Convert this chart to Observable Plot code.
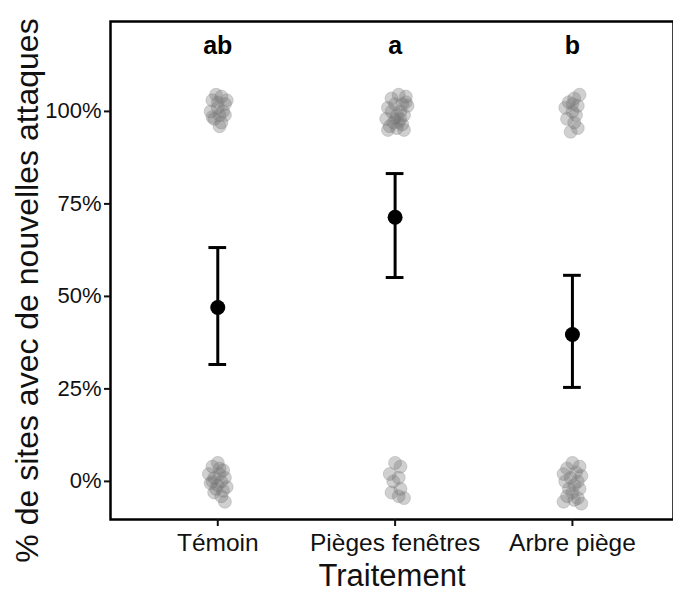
<!DOCTYPE html>
<html>
<head>
<meta charset="utf-8">
<script src="https://cdn.jsdelivr.net/npm/d3@7"></script>
<script src="https://cdn.jsdelivr.net/npm/@observablehq/plot@0.6"></script>
<style>
  body { margin: 0; background: #fff; }
</style>
</head>
<body>
<div id="chart"></div>
<script>
// ---- data ----
const treatments = ["Témoin", "Pièges fenêtres", "Arbre piège"];
const means = [0.470, 0.714, 0.397];
const lower = [0.316, 0.551, 0.254];
const upper = [0.632, 0.832, 0.557];
const letters = ["ab", "a", "b"];
const yTicks = [0, 0.25, 0.5, 0.75, 1];

// observed sites (jittered as in the figure): [x offset, y offset]
const temoin1 = [[0.02,0.04],[-0.03,0.03],[0.04,0.02],[0.00,0.01],[-0.04,0.00],[0.03,0.00],[0.01,-0.01],[-0.02,-0.02],[0.05,0.03],[-0.01,0.045],[0.02,-0.03],[-0.03,-0.015],[0.01,-0.04],[0.00,0.025],[0.04,-0.01]];
const temoin0 = [[0.00,0.05],[-0.03,0.04],[0.03,0.03],[-0.05,0.02],[0.01,0.02],[0.04,0.01],[-0.02,0.01],[0.02,0.00],[-0.04,-0.005],[0.00,-0.01],[0.05,-0.015],[-0.01,-0.02],[0.03,-0.025],[-0.03,0.00],[0.01,0.035],[0.02,-0.04],[0.04,-0.055],[-0.02,-0.03]];
const pieges1 = [[0.02,0.045],[0.06,0.04],[-0.02,0.035],[0.04,0.02],[0.07,0.015],[0.00,0.02],[-0.04,0.01],[0.03,0.00],[-0.02,0.00],[0.05,-0.01],[0.01,-0.01],[-0.05,-0.02],[0.03,-0.02],[-0.01,-0.03],[0.04,-0.035],[-0.03,-0.04],[0.01,-0.045],[0.05,-0.05],[-0.04,-0.05],[0.02,-0.03],[0.00,-0.02],[0.06,0.025]];
const pieges0 = [[0.00,0.05],[0.03,0.04],[-0.03,0.02],[0.02,0.01],[-0.01,0.00],[0.03,-0.02],[-0.02,-0.03],[0.02,-0.04],[0.05,-0.045]];
const arbre1 = [[0.04,0.045],[0.01,0.035],[-0.02,0.025],[0.03,0.015],[-0.04,0.01],[0.00,0.00],[0.02,-0.01],[-0.03,-0.02],[0.01,-0.03],[0.03,-0.045],[-0.01,-0.055],[0.00,0.02]];
const arbre0 = [[0.00,0.05],[0.04,0.04],[-0.03,0.035],[0.02,0.025],[-0.05,0.02],[0.05,0.015],[-0.01,0.01],[0.03,0.00],[-0.04,0.00],[0.01,-0.01],[-0.02,-0.02],[0.04,-0.02],[0.00,-0.03],[-0.03,-0.04],[0.03,-0.045],[0.05,-0.06],[-0.05,-0.055],[0.01,-0.05]];

// ---- build tables ----
const clusters = [
  {g: 1, v: 1, pts: temoin1}, {g: 1, v: 0, pts: temoin0},
  {g: 2, v: 1, pts: pieges1}, {g: 2, v: 0, pts: pieges0},
  {g: 3, v: 1, pts: arbre1},  {g: 3, v: 0, pts: arbre0}
];
const sites = clusters.flatMap(c => c.pts.map(([dx, dy]) => ({x: c.g + dx, y: c.v + dy})));
const summary = treatments.map((t, i) => ({
  g: i + 1, mean: means[i], lo: lower[i], hi: upper[i], letter: letters[i]
}));

const font = "'Liberation Sans', Arial, Helvetica, sans-serif";

const chart = Plot.plot({
  width: 673,
  height: 599,
  marginLeft: 110,
  marginRight: 0,
  marginTop: 21,
  marginBottom: 80,
  style: {fontFamily: font, color: "#111", background: "#fff"},
  x: {domain: [0.395, 3.57]},
  y: {domain: [-0.103, 1.243]},
  marks: [
    Plot.dot(sites, {x: "x", y: "y", r: 6.5, fill: "#6e6e6e", fillOpacity: 0.32, stroke: "#999", strokeOpacity: 0.5, strokeWidth: 0.8}),
    Plot.ruleX(summary, {x: "g", y1: "lo", y2: "hi", stroke: "#000", strokeWidth: 3}),
    Plot.ruleY(summary, {y: "lo", x1: d => d.g - 0.05, x2: d => d.g + 0.05, stroke: "#000", strokeWidth: 3}),
    Plot.ruleY(summary, {y: "hi", x1: d => d.g - 0.05, x2: d => d.g + 0.05, stroke: "#000", strokeWidth: 3}),
    Plot.dot(summary, {x: "g", y: "mean", r: 7.5, fill: "#000", stroke: "none"}),
    Plot.text(summary, {x: "g", y: () => 1.176, text: "letter", fontSize: 25, fontWeight: "bold", fill: "#000"}),
    Plot.frame({stroke: "#000", strokeWidth: 2.5}),
    Plot.axisY({ticks: yTicks, tickFormat: d3.format(".0%"), tickSize: 6, tickPadding: 3, fontSize: 22, strokeWidth: 2, label: null}),
    Plot.axisX({ticks: [1, 2, 3], tickFormat: d => treatments[d - 1], tickSize: 7, tickPadding: 7, fontSize: 24.5, strokeWidth: 2, label: null}),
    Plot.text(["% de sites avec de nouvelles attaques"], {frameAnchor: "left", textAnchor: "middle", dx: -83, dy: 20, rotate: -90, fontSize: 32, fill: "#111"}),
    Plot.text(["Traitement"], {frameAnchor: "bottom", textAnchor: "middle", dy: 66, fontSize: 31, fill: "#111"})
  ]
});
document.getElementById("chart").append(chart);
</script>
</body>
</html>
